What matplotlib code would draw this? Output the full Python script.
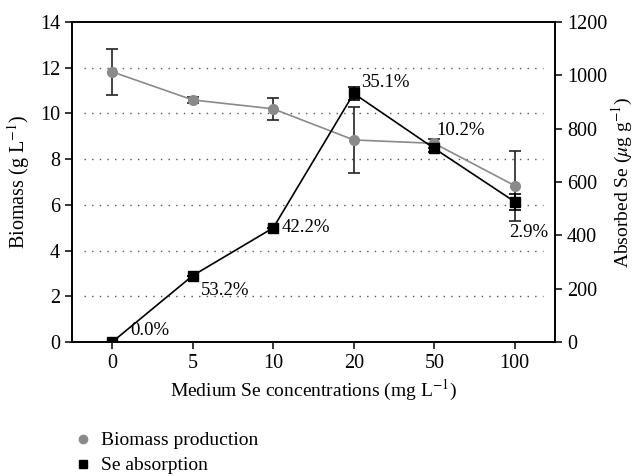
import matplotlib.pyplot as plt
from matplotlib.lines import Line2D

plt.rcParams['font.family'] = ['Liberation Serif', 'DejaVu Serif']
plt.rcParams['mathtext.fontset'] = 'stix'

concentrations = ['0', '5', '10', '20', '50', '100']
biomass = [11.82, 10.59, 10.2, 8.84, 8.69, 6.84]
biomass_err = [1.02, 0.15, 0.47, 1.43, 0.2, 1.53]
se_absorbed = [0, 249, 428, 932, 726, 526]
se_err = [0, 0, 0, 25, 15, 30]
pct_labels = ['0.0%', '53.2%', '42.2%', '35.1%', '10.2%', '2.9%']
# pixel offsets for the percentage labels
pct_offsets = [(18, 3), (8, -15), (8, 0), (7, 11), (2, 18), (-6, -31)]
pct_va = ['bottom', 'center', 'center', 'center', 'center', 'center']

x = list(range(len(concentrations)))

fig = plt.figure(figsize=(6.37, 4.76), dpi=100)
ax = fig.add_axes([72 / 637, 1 - 342 / 476, (555 - 72) / 637, 320 / 476])
ax2 = ax.twinx()

gray = '#8a8a8a'
ax.errorbar(x, biomass, yerr=biomass_err, color=gray, marker='o', markersize=7,
            linewidth=1.2, ecolor='#222222', elinewidth=1.2, capsize=4, capthick=1.2, zorder=3)
ax2.errorbar(x, se_absorbed, yerr=se_err, color='black', marker='s', markersize=7,
             linewidth=1.2, ecolor='black', elinewidth=1.2, capsize=4, capthick=1.2, zorder=4)

for xi, yi, lab, off, va in zip(x, se_absorbed, pct_labels, pct_offsets, pct_va):
    ax2.annotate(lab, (xi, yi), xytext=off, textcoords='offset pixels',
                 ha='left', va=va, fontsize=13.5)

ax.set_xlim(-0.5, 5.5)
ax.set_ylim(0, 14)
ax2.set_ylim(0, 1200)
ax.set_xticks(x)
ax.set_xticklabels(concentrations)
ax.set_yticks(range(0, 15, 2))
ax2.set_yticks(range(0, 1201, 200))

for yv in range(2, 13, 2):
    ax.hlines(yv, -0.35, 5.35, colors='#555555', linestyles=(0, (1, 4.5)), linewidth=1.0, zorder=1)

for a in (ax, ax2):
    a.tick_params(labelsize=14.5, length=5, width=1.1, color='black')
    for s in a.spines.values():
        s.set_linewidth(1.2)

ax.set_ylabel('Biomass (g L$^{-1}$)', fontsize=14.5, labelpad=6)
ax2.set_ylabel('Absorbed Se ($\\mu$g g$^{-1}$)', fontsize=14, labelpad=2)
ax.set_xlabel('Medium Se concentrations (mg L$^{-1}$)', fontsize=14, labelpad=4)

handles = [Line2D([], [], color=gray, marker='o', linestyle='none', markersize=6),
           Line2D([], [], color='black', marker='s', linestyle='none', markersize=6)]
fig.legend(handles, ['Biomass production', 'Se absorption'], loc='upper left',
           bbox_to_anchor=(66 / 637, 1 - 422 / 476), frameon=False, fontsize=14,
           handlelength=0.7, handletextpad=0.6, labelspacing=0.38, borderpad=0)

fig.savefig('out.png', dpi=100)
